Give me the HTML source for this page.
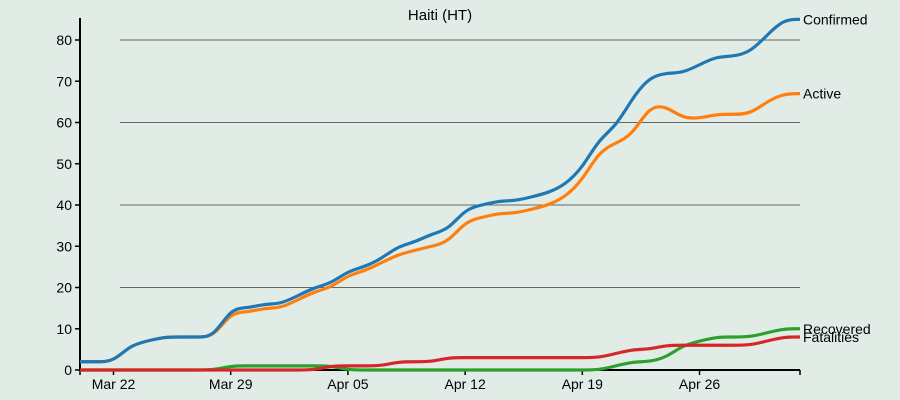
<!DOCTYPE html>
<html><head><meta charset="utf-8"><style>
body{margin:0;background:#e2ece6;}
svg{display:block;font-family:"Liberation Sans",sans-serif;}
</style></head><body>
<svg id="chart" width="900" height="400">
<rect width="900" height="400" fill="#e2ece6"/>
<text x="440" y="20" text-anchor="middle" font-size="15" fill="#000">Haiti (HT)</text>
<g id="grid"></g><g id="axes"></g><g id="series"></g>
</svg>
<script>
const confirmed = [2,2,2,6,7,8,8,8,8,15,15,16,16,18,20,21,24,25,27,30,31,33,34,39,40,41,41,42,43,45,49,56,59,66,71,72,72,74,76,76,77,81,85,85];
const active =    [2,2,2,6,7,8,8,8,8,14,14,15,15,17,19,20,23,24,26,28,29,30,31,36,37,38,38,39,40,42,46,53,55,57,64,64,61,61,62,62,62,65,67,67];
const recovered = [0,0,0,0,0,0,0,0,0,1,1,1,1,1,1,1,0,0,0,0,0,0,0,0,0,0,0,0,0,0,0,0,1,2,2,3,6,7,8,8,8,9,10,10];
const fatalities =[0,0,0,0,0,0,0,0,0,0,0,0,0,0,0,1,1,1,1,2,2,2,3,3,3,3,3,3,3,3,3,3,4,5,5,6,6,6,6,6,6,7,8,8];
const yTicks = [0,10,20,30,40,50,60,70,80];
const gridTicks = [20,40,60,80];
const xTickLabels = ["Mar 22","Mar 29","Apr 05","Apr 12","Apr 19","Apr 26"];
const xTickDays = [2,9,16,23,30,37];
const seriesNames = ["Confirmed","Active","Recovered","Fatalities"];
const seriesColors = ["#1f77b4","#ff7f0e","#2ca02c","#d62728"];

const NS="http://www.w3.org/2000/svg";
const x0=80,x1=800,y0=370,yTop=40;
const nDays=confirmed.length;
const xS=i=>x0+(x1-x0)*i/(nDays-1);
const yS=v=>y0-(y0-yTop)*v/80;
function mk(tag,attrs,parent){const e=document.createElementNS(NS,tag);for(const k in attrs)e.setAttribute(k,attrs[k]);parent.appendChild(e);return e;}
const grid=document.getElementById('grid'),axes=document.getElementById('axes'),ser=document.getElementById('series');
gridTicks.forEach(v=>{
  const l=mk('line',{x1:120,x2:800,y1:yS(v),y2:yS(v),stroke:'#666','stroke-width':1},grid);
  
  
});
const ya=mk('line',{x1:x0,x2:x0,y1:18,y2:y0,stroke:'#000','stroke-width':2},axes);


yTicks.forEach(v=>{
  const t=mk('line',{x1:x0-5,x2:x0,y1:yS(v),y2:yS(v),stroke:'#000','stroke-width':1.5},axes);
  
  
  const tx=mk('text',{x:x0-8,y:yS(v)+5,'text-anchor':'end','font-size':14},axes);
  tx.textContent=v;
  
  
});
const xa=mk('line',{x1:x0,x2:x1,y1:y0,y2:y0,stroke:'#000','stroke-width':2},axes);


[0].concat(xTickDays,[nDays-1]).forEach(d=>{
  const t=mk('line',{x1:xS(d),x2:xS(d),y1:y0,y2:y0+5,stroke:'#000','stroke-width':1.5},axes);
  
  
});
xTickLabels.forEach((lab,k)=>{
  const tx=mk('text',{x:xS(xTickDays[k]),y:y0+19,'text-anchor':'middle','font-size':14},axes);
  tx.textContent=lab;
  
  
});
// uniform cubic B-spline (like d3.curveBasis)
function pathFor(vals){
  const p=vals.map((v,i)=>[xS(i),yS(v)]);
  const q=[p[0],p[0]].concat(p,[p[p.length-1],p[p.length-1]]);
  let d='';
  for(let i=0;i<q.length-3;i++){
    const a=q[i],b=q[i+1],c=q[i+2],e=q[i+3];
    const s=[(a[0]+4*b[0]+c[0])/6,(a[1]+4*b[1]+c[1])/6];
    const c1=[(2*b[0]+c[0])/3,(2*b[1]+c[1])/3];
    const c2=[(b[0]+2*c[0])/3,(b[1]+2*c[1])/3];
    const en=[(b[0]+4*c[0]+e[0])/6,(b[1]+4*c[1]+e[1])/6];
    if(i===0)d='M'+s[0]+','+s[1];
    d+=' C'+c1[0]+','+c1[1]+' '+c2[0]+','+c2[1]+' '+en[0]+','+en[1];
  }
  return d;
}
const allSeries=[confirmed,active,recovered,fatalities];
[2,3,1,0].forEach(k=>{
  const vals=allSeries[k];
  const pth=mk('path',{d:pathFor(vals),fill:'none',stroke:seriesColors[k],'stroke-width':3.2},ser);
  
  
});
allSeries.forEach((vals,k)=>{
  const tx=mk('text',{x:803,y:yS(vals[vals.length-1])+5,'font-size':14},ser);
  tx.textContent=seriesNames[k];
  
  
});
</script>
</body></html>
